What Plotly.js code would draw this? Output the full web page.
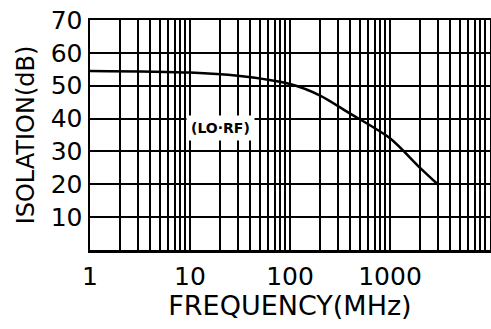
<!DOCTYPE html>
<html>
<head>
<meta charset="utf-8">
<script src="https://cdn.plot.ly/plotly-3.0.1.min.js"></script>
<style>html,body{margin:0;padding:0;background:#fff;}#chart{width:491px;height:329px;}</style>
</head>
<body>
<div id="chart"></div>
<script>
// Data
const freqMHz = [1, 10, 30, 100, 200, 400, 1000, 2000, 3000];
const isolationDb = [54.5, 54, 53, 50.5, 47, 41.5, 34, 25, 20];
const xTickVals = [1, 10, 100, 1000];
const xTickText = ['1', '10', '100', '1000'];
const yTickVals = [10, 20, 30, 40, 50, 60, 70];
const curveLabel = '(LO·RF)';
const labelPos = {x: 20, y: 37};

const font = "DejaVu Sans, Liberation Sans, sans-serif";

const data = [{
  x: freqMHz, y: isolationDb, type: 'scatter', mode: 'lines',
  line: {color: '#000', width: 2.5, shape: 'spline', smoothing: 0.8},
  hoverinfo: 'skip'
}];

const layout = {
  width: 491, height: 329,
  margin: {l: 90, r: 1, t: 20, b: 79},
  paper_bgcolor: '#fff', plot_bgcolor: '#fff',
  showlegend: false,
  font: {family: font, color: '#000'},
  xaxis: {
    type: 'log', range: [0, 4],
    tickvals: xTickVals, ticktext: xTickText,
    showgrid: true, gridcolor: '#000', gridwidth: 2,
    minor: {dtick: 'D1', showgrid: true, gridcolor: '#000', gridwidth: 2, ticks: ''},
    ticks: '', ticklabelstandoff: 2,
    tickfont: {size: 25, family: font},
    showline: true, mirror: true, linecolor: '#000', linewidth: 2.5,
    zeroline: false,
    title: {text: 'FREQUENCY(MHz)', font: {size: 27, family: font}, standoff: 4}
  },
  yaxis: {
    range: [0, 70], tickvals: yTickVals,
    showgrid: true, gridcolor: '#000', gridwidth: 2,
    ticks: '', ticklabelstandoff: 0,
    tickfont: {size: 25, family: font},
    showline: true, mirror: true, linecolor: '#000', linewidth: 2.5,
    zeroline: false,
    title: {text: 'ISOLATION(dB)', font: {size: 24, family: font}, standoff: 10}
  },
  annotations: [{
    x: Math.log10(labelPos.x), y: labelPos.y, xref: 'x', yref: 'y',
    text: curveLabel, showarrow: false, bgcolor: '#fff',
    font: {size: 14, family: font, color: '#000', weight: 'bold'}, borderpad: 4
  }]
};

Plotly.newPlot('chart', data, layout, {displayModeBar: false, staticPlot: true});
</script>
</body>
</html>
